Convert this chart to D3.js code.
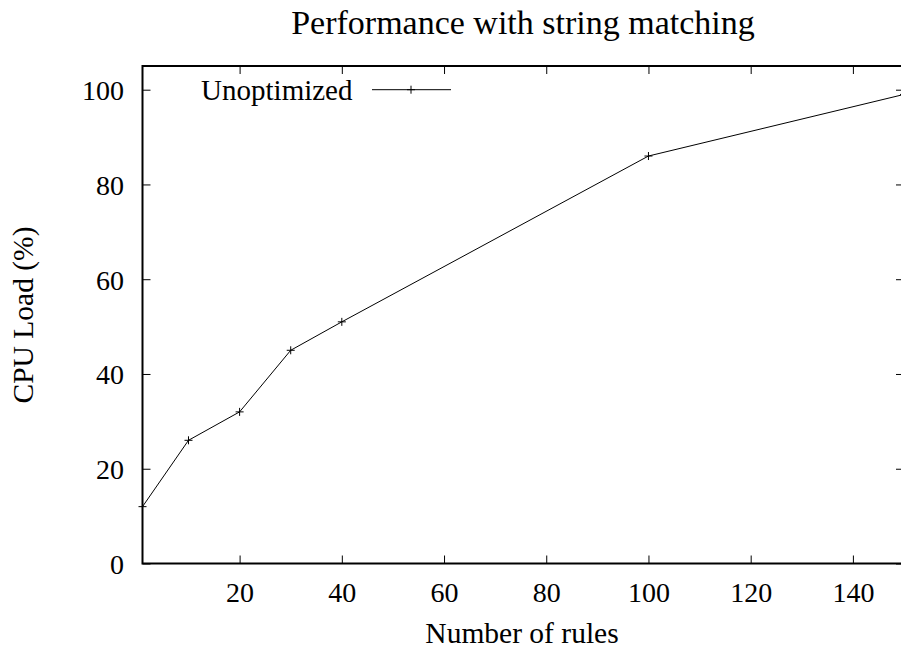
<!DOCTYPE html>
<html>
<head>
<meta charset="utf-8">
<script src="https://cdn.jsdelivr.net/npm/d3@7"></script>
<style>
  body { margin: 0; background: #fff; overflow: hidden; }
  text { font-family: "Liberation Serif", "Times New Roman", serif; fill: #000; }
</style>
</head>
<body>
<div id="chart-area"></div>
<script>
// Data
var rules = [1, 10, 20, 30, 40, 100, 150];
var cpuLoad = [12, 26, 32, 45, 51, 86, 99];
var xTicks = [20, 40, 60, 80, 100, 120, 140];
var yTicks = [0, 20, 40, 60, 80, 100];
var seriesName = "Unoptimized";

var width = 901, height = 654;

// Plot box (gnuplot-like, runs a little past the right edge)
var box = { left: 142.5, right: 904, top: 66, bottom: 563.5 };

var svg = d3.select("#chart-area")
    .append("svg")
        .attr("width", width)
        .attr("height", height);

// X Scale
var x = d3.scaleLinear()
    .domain([1, 150])
    .range([box.left, box.right]);

// Y Scale
var y = d3.scaleLinear()
    .domain([0, 105])
    .range([box.bottom, box.top]);

var tickLen = 8;

// Bottom axis with labels
svg.append("g")
    .attr("transform", "translate(0," + box.bottom + ")")
    .call(d3.axisBottom(x).tickValues(xTicks).tickSizeInner(-tickLen).tickSizeOuter(0))
    .call(function(g){
        g.select(".domain").remove();
        g.selectAll("line").attr("stroke", "#000");
        g.selectAll("text")
            .attr("font-size", "28px")
            .attr("font-family", "Liberation Serif")
            .attr("y", 38)
            .attr("dy", 0);
    });

// Top mirror ticks
svg.append("g")
    .attr("transform", "translate(0," + box.top + ")")
    .call(d3.axisTop(x).tickValues(xTicks).tickSizeInner(-tickLen).tickSizeOuter(0).tickFormat(""))
    .call(function(g){ g.select(".domain").remove(); g.selectAll("line").attr("stroke", "#000"); });

// Left axis with labels
svg.append("g")
    .attr("transform", "translate(" + box.left + ",0)")
    .call(d3.axisLeft(y).tickValues(yTicks).tickSizeInner(-tickLen).tickSizeOuter(0))
    .call(function(g){
        g.select(".domain").remove();
        g.selectAll("line").attr("stroke", "#000");
        g.selectAll("text")
            .attr("font-size", "28px")
            .attr("font-family", "Liberation Serif")
            .attr("x", -18.5)
            .attr("y", 10)
            .attr("dy", 0);
    });

// Right mirror ticks
svg.append("g")
    .attr("transform", "translate(" + box.right + ",0)")
    .call(d3.axisRight(y).tickValues(yTicks).tickSizeInner(-tickLen).tickSizeOuter(0).tickFormat(""))
    .call(function(g){ g.select(".domain").remove(); g.selectAll("line").attr("stroke", "#000"); });

// Border
svg.append("rect")
    .attr("x", box.left)
    .attr("y", box.top)
    .attr("width", box.right - box.left)
    .attr("height", box.bottom - box.top)
    .attr("fill", "none")
    .attr("stroke", "#000")
    .attr("stroke-width", 2);

// Data line
var points = rules.map(function(r, i){ return { x: r, y: cpuLoad[i] }; });

var line = d3.line()
    .x(function(d){ return x(d.x); })
    .y(function(d){ return y(d.y); });

svg.append("path")
    .datum(points)
    .attr("fill", "none")
    .attr("stroke", "#000")
    .attr("stroke-width", 1)
    .attr("d", line);

// "+" markers
function plusPath(cx, cy, s) {
    return "M" + (cx - s) + "," + cy + "H" + (cx + s) + "M" + cx + "," + (cy - s) + "V" + (cy + s);
}
svg.selectAll(".pt")
    .data(points)
    .enter()
    .append("path")
    .attr("class", "pt")
    .attr("fill", "none")
    .attr("stroke", "#000")
    .attr("stroke-width", 1)
    .attr("d", function(d){ return plusPath(x(d.x), y(d.y), 4); });

// Legend
var legY = y(100);
svg.append("text")
    .attr("x", 352.5)
    .attr("y", legY + 10)
    .attr("font-size", "29px")
    .attr("text-anchor", "end")
    .text(seriesName);
svg.append("line")
    .attr("x1", 372).attr("x2", 451)
    .attr("y1", legY).attr("y2", legY)
    .attr("stroke", "#000");
svg.append("path")
    .attr("fill", "none")
    .attr("stroke", "#000")
    .attr("d", plusPath(411, legY, 4));

// Title
svg.append("text")
    .attr("x", 523)
    .attr("y", 34)
    .attr("font-size", "34px")
    .attr("text-anchor", "middle")
    .text("Performance with string matching");

// X Label
svg.append("text")
    .attr("x", 522)
    .attr("y", 643)
    .attr("font-size", "29.5px")
    .attr("text-anchor", "middle")
    .text("Number of rules");

// Y Label
svg.append("text")
    .attr("transform", "rotate(-90)")
    .attr("x", -315)
    .attr("y", 33)
    .attr("font-size", "29.5px")
    .attr("text-anchor", "middle")
    .text("CPU Load (%)");
</script>
</body>
</html>
